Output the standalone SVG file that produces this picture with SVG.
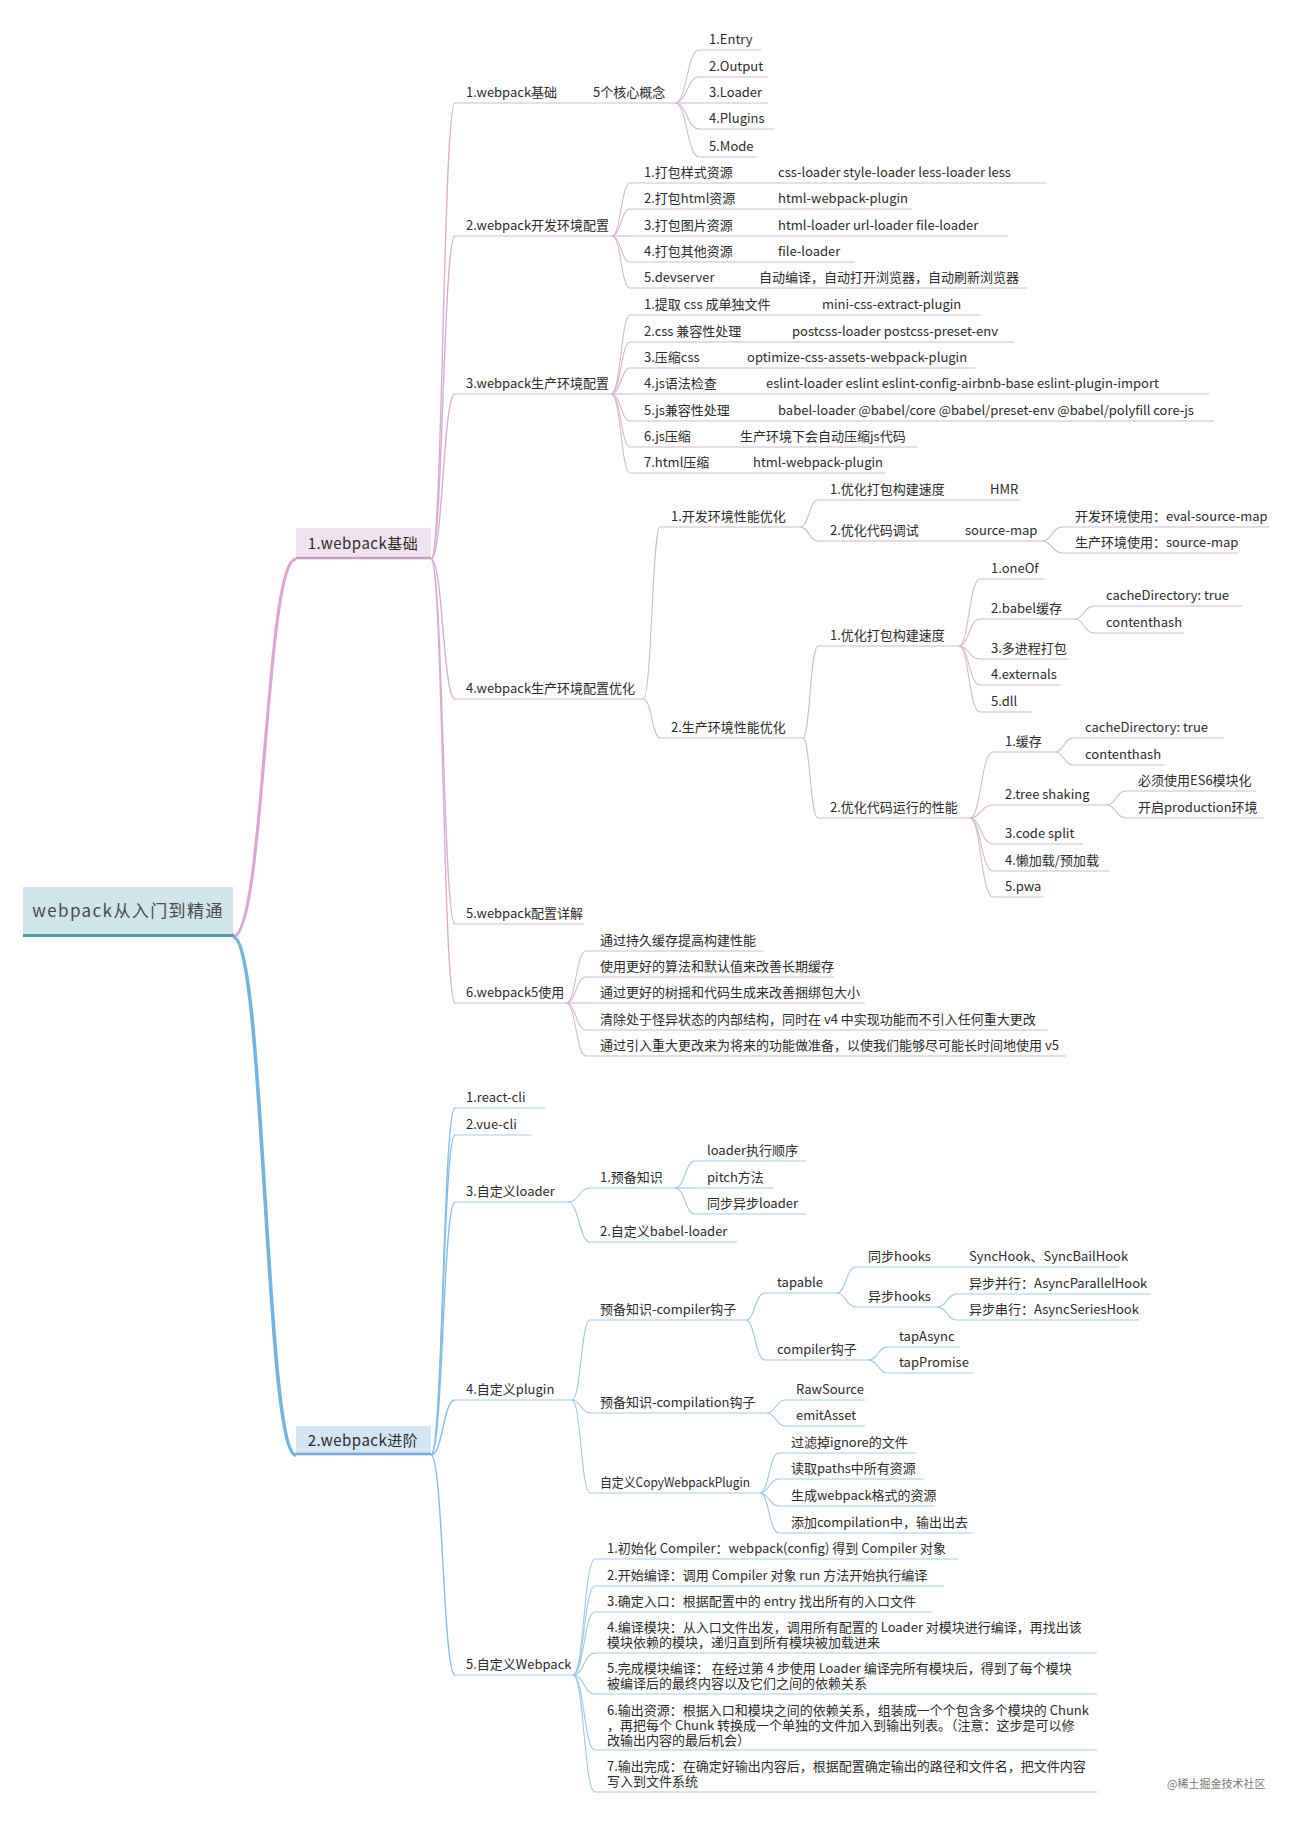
<svg xmlns="http://www.w3.org/2000/svg" width="1289" height="1821" viewBox="0 0 1289 1821">
<style>
text{font-family:"Noto Sans CJK SC","Noto Sans",sans-serif;font-size:13px;fill:#2b2b2b}
.box{font-size:15px;text-anchor:middle;letter-spacing:0.5px}
.root{font-size:17px;text-anchor:middle;fill:#4a4a4a;letter-spacing:1.4px}
.wm{font-size:11px;fill:#777}
.pr{stroke:#dba8d2;stroke-width:3.2;fill:none}
.br{stroke:#74b4e2;stroke-width:3.6;fill:none}
.p1{stroke:#d7aed0;stroke-width:1.4;fill:none}
.p2{stroke:#d4b8d0;stroke-width:1.1;fill:none}
.b1{stroke:#86bde3;stroke-width:1.4;fill:none}
.b2{stroke:#9cc6e4;stroke-width:1.1;fill:none}
.pu{stroke:#d4b8d0;stroke-width:1.1}
.bu{stroke:#a4cbe6;stroke-width:1.1}
</style>
<rect width="1289" height="1821" fill="#ffffff"/>

<g id="connectors">
<path class="pr" d="M233,937 C265,937 265,559 296,559"/>
<path class="br" d="M233,937 C265,937 265,1455 296,1455"/>
<path class="p1" d="M431,559 C443,559 443,103 455,103"/>
<path class="p1" d="M431,559 C443,559 443,236 455,236"/>
<path class="p1" d="M431,559 C443,559 443,394 455,394"/>
<path class="p1" d="M431,559 C443,559 443,699 455,699"/>
<path class="p1" d="M431,559 C443,559 443,924 455,924"/>
<path class="p1" d="M431,559 C443,559 443,1003 455,1003"/>
<path class="p2" d="M675,103 C687,103 687,50 699,50"/>
<path class="p2" d="M675,103 C687,103 687,77 699,77"/>
<path class="p2" d="M675,103 C687,103 687,103 699,103"/>
<path class="p2" d="M675,103 C687,103 687,129 699,129"/>
<path class="p2" d="M675,103 C687,103 687,157 699,157"/>
<path class="p2" d="M612,236 C621,236 621,183 630,183"/>
<path class="p2" d="M612,236 C621,236 621,209 630,209"/>
<path class="p2" d="M612,236 C621,236 621,236 630,236"/>
<path class="p2" d="M612,236 C621,236 621,262 630,262"/>
<path class="p2" d="M612,236 C621,236 621,288 630,288"/>
<path class="p2" d="M611,394 C621,394 621,315 630,315"/>
<path class="p2" d="M611,394 C621,394 621,342 630,342"/>
<path class="p2" d="M611,394 C621,394 621,368 630,368"/>
<path class="p2" d="M611,394 C621,394 621,394 630,394"/>
<path class="p2" d="M611,394 C621,394 621,421 630,421"/>
<path class="p2" d="M611,394 C621,394 621,447 630,447"/>
<path class="p2" d="M611,394 C621,394 621,473 630,473"/>
<path class="p2" d="M643,699 C652,699 652,527 660,527"/>
<path class="p2" d="M643,699 C652,699 652,738 660,738"/>
<path class="p2" d="M800,527 C809,527 809,500 818,500"/>
<path class="p2" d="M800,527 C809,527 809,541 818,541"/>
<path class="p2" d="M1042,541 C1052,541 1052,527 1063,527"/>
<path class="p2" d="M1042,541 C1052,541 1052,553 1063,553"/>
<path class="p2" d="M803,738 C810,738 810,646 818,646"/>
<path class="p2" d="M803,738 C810,738 810,818 818,818"/>
<path class="p2" d="M959,646 C969,646 969,579 980,579"/>
<path class="p2" d="M959,646 C969,646 969,619 980,619"/>
<path class="p2" d="M959,646 C969,646 969,659 980,659"/>
<path class="p2" d="M959,646 C969,646 969,685 980,685"/>
<path class="p2" d="M959,646 C969,646 969,712 980,712"/>
<path class="p2" d="M1075,619 C1084,619 1084,606 1094,606"/>
<path class="p2" d="M1075,619 C1084,619 1084,633 1094,633"/>
<path class="p2" d="M970,818 C981,818 981,752 993,752"/>
<path class="p2" d="M970,818 C981,818 981,805 993,805"/>
<path class="p2" d="M970,818 C981,818 981,844 993,844"/>
<path class="p2" d="M970,818 C981,818 981,871 993,871"/>
<path class="p2" d="M970,818 C981,818 981,897 993,897"/>
<path class="p2" d="M1055,752 C1064,752 1064,738 1073,738"/>
<path class="p2" d="M1055,752 C1064,752 1064,765 1073,765"/>
<path class="p2" d="M1107,805 C1116,805 1116,791 1126,791"/>
<path class="p2" d="M1107,805 C1116,805 1116,818 1126,818"/>
<path class="p2" d="M566,1003 C576,1003 576,951 586,951"/>
<path class="p2" d="M566,1003 C576,1003 576,977 586,977"/>
<path class="p2" d="M566,1003 C576,1003 576,1003 586,1003"/>
<path class="p2" d="M566,1003 C576,1003 576,1030 586,1030"/>
<path class="p2" d="M566,1003 C576,1003 576,1056 586,1056"/>
<path class="b1" d="M431,1455 C443,1455 443,1108 455,1108"/>
<path class="b1" d="M431,1455 C443,1455 443,1135 455,1135"/>
<path class="b1" d="M431,1455 C443,1455 443,1202 455,1202"/>
<path class="b1" d="M431,1455 C443,1455 443,1400 455,1400"/>
<path class="b1" d="M431,1455 C443,1455 443,1675 455,1675"/>
<path class="b2" d="M568,1202 C579,1202 579,1188 590,1188"/>
<path class="b2" d="M568,1202 C579,1202 579,1242 590,1242"/>
<path class="b2" d="M675,1188 C685,1188 685,1161 695,1161"/>
<path class="b2" d="M675,1188 C685,1188 685,1188 695,1188"/>
<path class="b2" d="M675,1188 C685,1188 685,1214 695,1214"/>
<path class="b2" d="M572,1400 C581,1400 581,1320 590,1320"/>
<path class="b2" d="M572,1400 C581,1400 581,1413 590,1413"/>
<path class="b2" d="M572,1400 C581,1400 581,1493 590,1493"/>
<path class="b2" d="M746,1320 C755,1320 755,1293 765,1293"/>
<path class="b2" d="M746,1320 C755,1320 755,1360 765,1360"/>
<path class="b2" d="M837,1293 C846,1293 846,1267 856,1267"/>
<path class="b2" d="M837,1293 C846,1293 846,1307 856,1307"/>
<path class="b2" d="M937,1307 C947,1307 947,1294 957,1294"/>
<path class="b2" d="M937,1307 C947,1307 947,1320 957,1320"/>
<path class="b2" d="M868,1360 C878,1360 878,1347 888,1347"/>
<path class="b2" d="M868,1360 C878,1360 878,1373 888,1373"/>
<path class="b2" d="M767,1413 C776,1413 776,1400 785,1400"/>
<path class="b2" d="M767,1413 C776,1413 776,1426 785,1426"/>
<path class="b2" d="M760,1493 C769,1493 769,1453 779,1453"/>
<path class="b2" d="M760,1493 C769,1493 769,1479 779,1479"/>
<path class="b2" d="M760,1493 C769,1493 769,1506 779,1506"/>
<path class="b2" d="M760,1493 C769,1493 769,1533 779,1533"/>
<path class="b2" d="M573,1675 C584,1675 584,1559 595,1559"/>
<path class="b2" d="M573,1675 C584,1675 584,1586 595,1586"/>
<path class="b2" d="M573,1675 C584,1675 584,1612 595,1612"/>
<path class="b2" d="M573,1675 C584,1675 584,1653 595,1653"/>
<path class="b2" d="M573,1675 C584,1675 584,1694 595,1694"/>
<path class="b2" d="M573,1675 C584,1675 584,1750 595,1750"/>
<path class="b2" d="M573,1675 C584,1675 584,1792 595,1792"/>
</g>

<g id="root">
<rect x="23" y="887" width="210" height="48" fill="#cfe5e9"/>
<line x1="23" y1="935.5" x2="234" y2="935.5" stroke="#4f9d9a" stroke-width="3"/>
<text class="root" x="128" y="917">webpack从入门到精通</text>
</g>

<g id="n-basic">
<rect x="296" y="528" width="135" height="30" fill="#f1e2ef"/>
<line x1="296" y1="558" x2="431" y2="558" stroke="#c99ec3" stroke-width="2.4"/>
<text class="box" x="363" y="549">1.webpack基础</text>
</g>

<g id="n-advanced">
<rect x="296" y="1426" width="135" height="29" fill="#d4e5f6"/>
<line x1="296" y1="1454" x2="431" y2="1454" stroke="#78a8d6" stroke-width="2.4"/>
<text class="box" x="363" y="1446">2.webpack进阶</text>
</g>

<g id="s1">
<g id="n-1-1"><line class="pu" x1="455" y1="103" x2="675" y2="103"/><text x="466" y="97">1.webpack基础</text><text x="593" y="97">5个核心概念</text></g>
<g id="n-entry"><line class="pu" x1="699" y1="50" x2="761" y2="50"/><text x="709" y="44">1.Entry</text></g>
<g id="n-output"><line class="pu" x1="699" y1="77" x2="768" y2="77"/><text x="709" y="71">2.Output</text></g>
<g id="n-loader"><line class="pu" x1="699" y1="103" x2="768" y2="103"/><text x="709" y="97">3.Loader</text></g>
<g id="n-plugins"><line class="pu" x1="699" y1="129" x2="775" y2="129"/><text x="709" y="123">4.Plugins</text></g>
<g id="n-mode"><line class="pu" x1="699" y1="157" x2="757" y2="157"/><text x="709" y="151">5.Mode</text></g>

<g id="n-1-2"><line class="pu" x1="455" y1="236" x2="612" y2="236"/><text x="466" y="230">2.webpack开发环境配置</text></g>
<g id="n-dev1"><line class="pu" x1="630" y1="183" x2="1047" y2="183"/><text x="644" y="177">1.打包样式资源</text><text x="778" y="177">css-loader style-loader less-loader less</text></g>
<g id="n-dev2"><line class="pu" x1="630" y1="209" x2="912" y2="209"/><text x="644" y="203">2.打包html资源</text><text x="778" y="203">html-webpack-plugin</text></g>
<g id="n-dev3"><line class="pu" x1="630" y1="236" x2="1008" y2="236"/><text x="644" y="230">3.打包图片资源</text><text x="778" y="230">html-loader url-loader file-loader</text></g>
<g id="n-dev4"><line class="pu" x1="630" y1="262" x2="855" y2="262"/><text x="644" y="256">4.打包其他资源</text><text x="778" y="256">file-loader</text></g>
<g id="n-dev5"><line class="pu" x1="630" y1="288" x2="1027" y2="288"/><text x="644" y="282">5.devserver</text><text x="759" y="282">自动编译，自动打开浏览器，自动刷新浏览器</text></g>

<g id="n-1-3"><line class="pu" x1="455" y1="394" x2="611" y2="394"/><text x="466" y="388">3.webpack生产环境配置</text></g>
<g id="n-prod1"><line class="pu" x1="630" y1="315" x2="981" y2="315"/><text x="644" y="309">1.提取 css 成单独文件</text><text x="822" y="309">mini-css-extract-plugin</text></g>
<g id="n-prod2"><line class="pu" x1="630" y1="342" x2="1014" y2="342"/><text x="644" y="336">2.css 兼容性处理</text><text x="792" y="336">postcss-loader postcss-preset-env</text></g>
<g id="n-prod3"><line class="pu" x1="630" y1="368" x2="975" y2="368"/><text x="644" y="362">3.压缩css</text><text x="747" y="362">optimize-css-assets-webpack-plugin</text></g>
<g id="n-prod4"><line class="pu" x1="630" y1="394" x2="1209" y2="394"/><text x="644" y="388">4.js语法检查</text><text x="766" y="388">eslint-loader eslint eslint-config-airbnb-base eslint-plugin-import</text></g>
<g id="n-prod5"><line class="pu" x1="630" y1="421" x2="1214" y2="421"/><text x="644" y="415">5.js兼容性处理</text><text x="778" y="415">babel-loader @babel/core @babel/preset-env @babel/polyfill core-js</text></g>
<g id="n-prod6"><line class="pu" x1="630" y1="447" x2="917" y2="447"/><text x="644" y="441">6.js压缩</text><text x="740" y="441">生产环境下会自动压缩js代码</text></g>
<g id="n-prod7"><line class="pu" x1="630" y1="473" x2="885" y2="473"/><text x="644" y="467">7.html压缩</text><text x="753" y="467">html-webpack-plugin</text></g>

<g id="n-1-4"><line class="pu" x1="455" y1="699" x2="643" y2="699"/><text x="466" y="693">4.webpack生产环境配置优化</text></g>
<g id="n-opt-dev"><line class="pu" x1="660" y1="527" x2="800" y2="527"/><text x="671" y="521">1.开发环境性能优化</text></g>
<g id="n-opt-dev1"><line class="pu" x1="818" y1="500" x2="1020" y2="500"/><text x="830" y="494">1.优化打包构建速度</text><text x="990" y="494">HMR</text></g>
<g id="n-opt-dev2"><line class="pu" x1="818" y1="541" x2="1042" y2="541"/><text x="830" y="535">2.优化代码调试</text><text x="965" y="535">source-map</text></g>
<g id="n-sm-dev"><line class="pu" x1="1063" y1="527" x2="1269" y2="527"/><text x="1075" y="521">开发环境使用：eval-source-map</text></g>
<g id="n-sm-prod"><line class="pu" x1="1063" y1="553" x2="1239" y2="553"/><text x="1075" y="547">生产环境使用：source-map</text></g>

<g id="n-opt-prod"><line class="pu" x1="660" y1="738" x2="803" y2="738"/><text x="671" y="732">2.生产环境性能优化</text></g>
<g id="n-opt-build"><line class="pu" x1="818" y1="646" x2="959" y2="646"/><text x="830" y="640">1.优化打包构建速度</text></g>
<g id="n-oneof"><line class="pu" x1="980" y1="579" x2="1044" y2="579"/><text x="991" y="573">1.oneOf</text></g>
<g id="n-babelcache"><line class="pu" x1="980" y1="619" x2="1075" y2="619"/><text x="991" y="613">2.babel缓存</text></g>
<g id="n-bc1"><line class="pu" x1="1094" y1="606" x2="1242" y2="606"/><text x="1106" y="600">cacheDirectory: true</text></g>
<g id="n-bc2"><line class="pu" x1="1094" y1="633" x2="1184" y2="633"/><text x="1106" y="627">contenthash</text></g>
<g id="n-multi"><line class="pu" x1="980" y1="659" x2="1069" y2="659"/><text x="991" y="653">3.多进程打包</text></g>
<g id="n-externals"><line class="pu" x1="980" y1="685" x2="1061" y2="685"/><text x="991" y="679">4.externals</text></g>
<g id="n-dll"><line class="pu" x1="980" y1="712" x2="1032" y2="712"/><text x="991" y="706">5.dll</text></g>

<g id="n-opt-run"><line class="pu" x1="818" y1="818" x2="970" y2="818"/><text x="830" y="812">2.优化代码运行的性能</text></g>
<g id="n-cache"><line class="pu" x1="993" y1="752" x2="1055" y2="752"/><text x="1005" y="746">1.缓存</text></g>
<g id="n-c1"><line class="pu" x1="1073" y1="738" x2="1224" y2="738"/><text x="1085" y="732">cacheDirectory: true</text></g>
<g id="n-c2"><line class="pu" x1="1073" y1="765" x2="1165" y2="765"/><text x="1085" y="759">contenthash</text></g>
<g id="n-tree"><line class="pu" x1="993" y1="805" x2="1107" y2="805"/><text x="1005" y="799">2.tree shaking</text></g>
<g id="n-t1"><line class="pu" x1="1126" y1="791" x2="1256" y2="791"/><text x="1138" y="785">必须使用ES6模块化</text></g>
<g id="n-t2"><line class="pu" x1="1126" y1="818" x2="1264" y2="818"/><text x="1138" y="812">开启production环境</text></g>
<g id="n-split"><line class="pu" x1="993" y1="844" x2="1083" y2="844"/><text x="1005" y="838">3.code split</text></g>
<g id="n-lazy"><line class="pu" x1="993" y1="871" x2="1109" y2="871"/><text x="1005" y="865">4.懒加载/预加载</text></g>
<g id="n-pwa"><line class="pu" x1="993" y1="897" x2="1044" y2="897"/><text x="1005" y="891">5.pwa</text></g>

<g id="n-1-5"><line class="pu" x1="455" y1="924" x2="584" y2="924"/><text x="466" y="918">5.webpack配置详解</text></g>
<g id="n-1-6"><line class="pu" x1="455" y1="1003" x2="566" y2="1003"/><text x="466" y="997">6.webpack5使用</text></g>
<g id="n-w1"><line class="pu" x1="586" y1="951" x2="764" y2="951"/><text x="600" y="945">通过持久缓存提高构建性能</text></g>
<g id="n-w2"><line class="pu" x1="586" y1="977" x2="834" y2="977"/><text x="600" y="971">使用更好的算法和默认值来改善长期缓存</text></g>
<g id="n-w3"><line class="pu" x1="586" y1="1003" x2="865" y2="1003"/><text x="600" y="997">通过更好的树摇和代码生成来改善捆绑包大小</text></g>
<g id="n-w4"><line class="pu" x1="586" y1="1030" x2="1048" y2="1030"/><text x="600" y="1024">清除处于怪异状态的内部结构，同时在 v4 中实现功能而不引入任何重大更改</text></g>
<g id="n-w5"><line class="pu" x1="586" y1="1056" x2="1066" y2="1056"/><text x="600" y="1050">通过引入重大更改来为将来的功能做准备，以使我们能够尽可能长时间地使用 v5</text></g>
</g>

<g id="s2">
<g id="n-2-1"><line class="bu" x1="455" y1="1108" x2="545" y2="1108"/><text x="466" y="1102">1.react-cli</text></g>
<g id="n-2-2"><line class="bu" x1="455" y1="1135" x2="532" y2="1135"/><text x="466" y="1129">2.vue-cli</text></g>
<g id="n-2-3"><line class="bu" x1="455" y1="1202" x2="568" y2="1202"/><text x="466" y="1196">3.自定义loader</text></g>
<g id="n-prep"><line class="bu" x1="590" y1="1188" x2="675" y2="1188"/><text x="600" y="1182">1.预备知识</text></g>
<g id="n-l1"><line class="bu" x1="695" y1="1161" x2="806" y2="1161"/><text x="707" y="1155">loader执行顺序</text></g>
<g id="n-l2"><line class="bu" x1="695" y1="1188" x2="773" y2="1188"/><text x="707" y="1182">pitch方法</text></g>
<g id="n-l3"><line class="bu" x1="695" y1="1214" x2="806" y2="1214"/><text x="707" y="1208">同步异步loader</text></g>
<g id="n-babel"><line class="bu" x1="590" y1="1242" x2="737" y2="1242"/><text x="600" y="1236">2.自定义babel-loader</text></g>

<g id="n-2-4"><line class="bu" x1="455" y1="1400" x2="572" y2="1400"/><text x="466" y="1394">4.自定义plugin</text></g>
<g id="n-compiler"><line class="bu" x1="590" y1="1320" x2="746" y2="1320"/><text x="600" y="1314">预备知识-compiler钩子</text></g>
<g id="n-tapable"><line class="bu" x1="765" y1="1293" x2="837" y2="1293"/><text x="777" y="1287">tapable</text></g>
<g id="n-synchooks"><line class="bu" x1="856" y1="1267" x2="1119" y2="1267"/><text x="868" y="1261">同步hooks</text><text x="969" y="1261">SyncHook、SyncBailHook</text></g>
<g id="n-asynchooks"><line class="bu" x1="856" y1="1307" x2="937" y2="1307"/><text x="868" y="1301">异步hooks</text></g>
<g id="n-ap"><line class="bu" x1="957" y1="1294" x2="1151" y2="1294"/><text x="969" y="1288">异步并行：AsyncParallelHook</text></g>
<g id="n-as"><line class="bu" x1="957" y1="1320" x2="1139" y2="1320"/><text x="969" y="1314">异步串行：AsyncSeriesHook</text></g>
<g id="n-chooks"><line class="bu" x1="765" y1="1360" x2="868" y2="1360"/><text x="777" y="1354">compiler钩子</text></g>
<g id="n-tapasync"><line class="bu" x1="888" y1="1347" x2="960" y2="1347"/><text x="899" y="1341">tapAsync</text></g>
<g id="n-tappromise"><line class="bu" x1="888" y1="1373" x2="973" y2="1373"/><text x="899" y="1367">tapPromise</text></g>
<g id="n-compilation"><line class="bu" x1="590" y1="1413" x2="767" y2="1413"/><text x="600" y="1407">预备知识-compilation钩子</text></g>
<g id="n-raw"><line class="bu" x1="785" y1="1400" x2="865" y2="1400"/><text x="796" y="1394">RawSource</text></g>
<g id="n-emit"><line class="bu" x1="785" y1="1426" x2="865" y2="1426"/><text x="796" y="1420">emitAsset</text></g>
<g id="n-copy"><line class="bu" x1="590" y1="1493" x2="760" y2="1493"/><text x="600" y="1487" textLength="150" lengthAdjust="spacingAndGlyphs">自定义CopyWebpackPlugin</text></g>
<g id="n-cp1"><line class="bu" x1="779" y1="1453" x2="916" y2="1453"/><text x="791" y="1447">过滤掉ignore的文件</text></g>
<g id="n-cp2"><line class="bu" x1="779" y1="1479" x2="924" y2="1479"/><text x="791" y="1473">读取paths中所有资源</text></g>
<g id="n-cp3"><line class="bu" x1="779" y1="1506" x2="935" y2="1506"/><text x="791" y="1500">生成webpack格式的资源</text></g>
<g id="n-cp4"><line class="bu" x1="779" y1="1533" x2="973" y2="1533"/><text x="791" y="1527">添加compilation中，输出出去</text></g>

<g id="n-2-5"><line class="bu" x1="455" y1="1675" x2="573" y2="1675"/><text x="466" y="1669">5.自定义Webpack</text></g>
<g id="n-s1"><line class="bu" x1="595" y1="1559" x2="958" y2="1559"/><text x="607" y="1553">1.初始化 Compiler：webpack(config) 得到 Compiler 对象</text></g>
<g id="n-s2"><line class="bu" x1="595" y1="1586" x2="944" y2="1586"/><text x="607" y="1580">2.开始编译：调用 Compiler 对象 run 方法开始执行编译</text></g>
<g id="n-s3"><line class="bu" x1="595" y1="1612" x2="932" y2="1612"/><text x="607" y="1606">3.确定入口：根据配置中的 entry 找出所有的入口文件</text></g>
<g id="n-s4"><line class="bu" x1="595" y1="1653" x2="1097" y2="1653"/><text x="607" y="1632">4.编译模块：从入口文件出发，调用所有配置的 Loader 对模块进行编译，再找出该<tspan x="607" dy="15">模块依赖的模块，递归直到所有模块被加载进来</tspan></text></g>
<g id="n-s5"><line class="bu" x1="595" y1="1694" x2="1097" y2="1694"/><text x="607" y="1673">5.完成模块编译： 在经过第 4 步使用 Loader 编译完所有模块后，得到了每个模块<tspan x="607" dy="15">被编译后的最终内容以及它们之间的依赖关系</tspan></text></g>
<g id="n-s6"><line class="bu" x1="595" y1="1750" x2="1097" y2="1750"/><text x="607" y="1715">6.输出资源：根据入口和模块之间的依赖关系，组装成一个个包含多个模块的 Chunk<tspan x="607" dy="15">，再把每个 Chunk 转换成一个单独的文件加入到输出列表。（注意：这步是可以修</tspan><tspan x="607" dy="15">改输出内容的最后机会）</tspan></text></g>
<g id="n-s7"><line class="bu" x1="595" y1="1792" x2="1097" y2="1792"/><text x="607" y="1771">7.输出完成：在确定好输出内容后，根据配置确定输出的路径和文件名，把文件内容<tspan x="607" dy="15">写入到文件系统</tspan></text></g>
</g>

<text class="wm" x="1167" y="1788">@稀土掘金技术社区</text>
</svg>
